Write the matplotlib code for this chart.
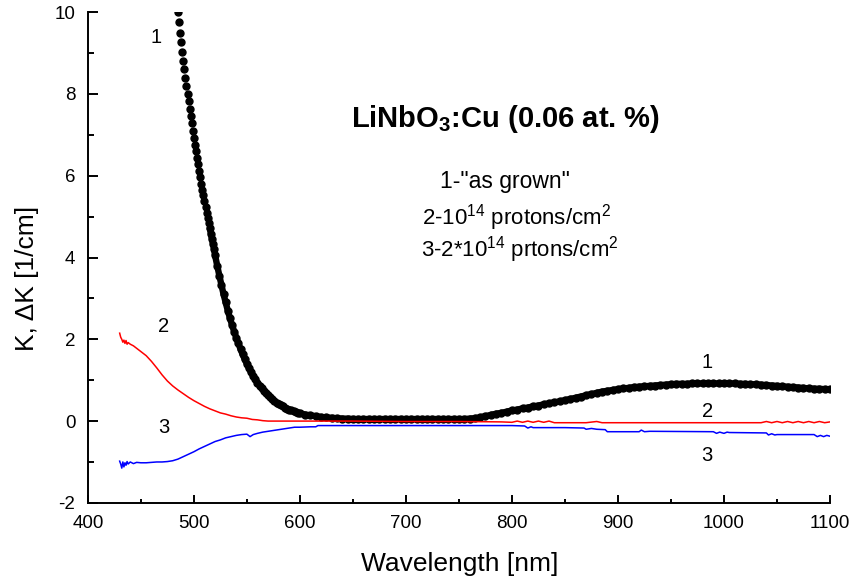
import numpy as np
import matplotlib
matplotlib.use('Agg')
import matplotlib.pyplot as plt
from matplotlib.ticker import MultipleLocator

plt.rcParams['font.family'] = ['Liberation Sans', 'DejaVu Sans']
plt.rcParams['mathtext.fontset'] = 'custom'
plt.rcParams['mathtext.rm'] = 'Liberation Sans'
plt.rcParams['mathtext.it'] = 'Liberation Sans'
plt.rcParams['mathtext.bf'] = 'Liberation Sans:bold'
plt.rcParams['axes.unicode_minus'] = False

# curve 1: "as grown" (black dots)
wl_1 = [485, 486, 487, 488, 489, 490, 491, 492, 493, 494, 495, 496, 497, 498, 499,
        500, 501, 502, 503, 504, 505, 506, 507, 508, 509, 510, 511, 512, 513, 514,
        515, 516, 517, 518, 519, 520,
        522, 524, 526, 528, 530, 532, 534, 536, 538, 540, 542, 544, 546, 548, 550,
        552, 554, 556, 558, 560, 562, 564, 566, 568, 570, 572, 574, 576, 578, 580,
        582, 584, 586, 588, 590, 592, 594, 596, 598, 600,
        605, 610, 615, 620, 625, 630, 635, 640, 645, 650, 655, 660, 665, 670, 675,
        680, 685, 690, 695, 700, 705, 710, 715, 720, 725, 730, 735, 740, 745, 750,
        755, 760, 765, 770, 775, 780, 785, 790, 795, 800, 805, 810, 815, 820, 825,
        830, 835, 840, 845, 850, 855, 860, 865, 870, 875, 880, 885, 890, 895, 900,
        905, 910, 915, 920, 925, 930, 935, 940, 945, 950, 955, 960, 965, 970, 975,
        980, 985, 990, 995, 1000, 1005, 1010, 1015, 1020, 1025, 1030, 1035, 1040,
        1045, 1050, 1055, 1060, 1065, 1070, 1075, 1080, 1085, 1090, 1095, 1100]
k_1 = [10.0, 9.75, 9.5, 9.26, 9.02, 8.8, 8.6, 8.4, 8.2, 8.0, 7.82, 7.64, 7.46, 7.28, 7.1,
       6.93, 6.76, 6.6, 6.44, 6.28, 6.12, 5.96, 5.81, 5.66, 5.52, 5.38, 5.24, 5.1, 4.97, 4.84,
       4.71, 4.58, 4.46, 4.34, 4.22, 4.05,
       3.8, 3.56, 3.33, 3.1, 2.9, 2.7, 2.52, 2.35, 2.19, 2.04, 1.9, 1.76, 1.63, 1.51, 1.4,
       1.29, 1.19, 1.1, 1.02, 0.94, 0.87, 0.8, 0.74, 0.68, 0.63, 0.58, 0.53, 0.49, 0.45, 0.42,
       0.39, 0.36, 0.33, 0.3, 0.28, 0.26, 0.24, 0.22, 0.2, 0.19,
       0.16, 0.14, 0.12, 0.1, 0.09, 0.08, 0.07, 0.06, 0.06, 0.05, 0.05, 0.05, 0.05, 0.05, 0.05,
       0.05, 0.05, 0.05, 0.05, 0.05, 0.05, 0.05, 0.05, 0.05, 0.05, 0.05, 0.05, 0.05, 0.05, 0.05,
       0.05, 0.06, 0.07, 0.09, 0.12, 0.15, 0.18, 0.2, 0.23, 0.26, 0.28, 0.31, 0.33, 0.36, 0.38,
       0.41, 0.43, 0.46, 0.48, 0.51, 0.54, 0.57, 0.6, 0.63, 0.66, 0.69, 0.72, 0.74, 0.76, 0.78,
       0.8, 0.81, 0.83, 0.84, 0.85, 0.86, 0.87, 0.88, 0.89, 0.9, 0.91, 0.91, 0.91, 0.92, 0.92,
       0.92, 0.92, 0.92, 0.92, 0.92, 0.92, 0.92, 0.91, 0.91, 0.9, 0.9, 0.89, 0.88,
       0.87, 0.86, 0.85, 0.84, 0.83, 0.82, 0.81, 0.8, 0.79, 0.79, 0.78, 0.78]

# curve 2: 1e14 protons/cm2 (red)
wl_2 = [430, 431, 432, 433, 434, 435, 436, 437, 438, 440, 443, 446, 450, 455, 460, 465,
        470, 475, 480, 485, 490, 495, 500, 505, 510, 515, 520, 525, 530, 535, 540, 545,
        550, 555, 560, 565, 570, 600, 650, 700, 750, 790, 800, 805, 810, 815, 820, 825,
        830, 835, 840, 850, 870, 880, 885, 895, 900, 950, 1000, 1035, 1040, 1045, 1050,
        1055, 1060, 1065, 1070, 1075, 1080, 1085, 1090, 1095, 1100]
k_2 = [2.15, 2.05, 2.0, 1.93, 1.98, 1.9, 1.97, 1.88, 1.92, 1.88, 1.84, 1.78, 1.70, 1.60, 1.46, 1.30,
       1.13, 0.98, 0.86, 0.76, 0.67, 0.58, 0.50, 0.43, 0.36, 0.30, 0.25, 0.20, 0.17, 0.13, 0.10, 0.08,
       0.07, 0.04, 0.03, 0.01, 0.0, 0.0, 0.0, -0.01, -0.01, -0.02, -0.03, 0.0, -0.03, 0.0, -0.03, 0.0,
       -0.03, 0.0, -0.04, -0.04, -0.04, -0.01, -0.04, -0.04, -0.04, -0.04, -0.04, -0.04, -0.01, -0.04, -0.01,
       -0.04, -0.01, -0.04, -0.01, -0.04, -0.01, -0.04, -0.01, -0.04, -0.02]

# curve 3: 2*1e14 protons/cm2 (blue)
wl_3 = [430, 431, 432, 433, 434, 435, 436, 437, 438, 440, 443, 446, 450, 455, 460, 465,
        470, 475, 480, 485, 490, 495, 500, 505, 510, 515, 520, 525, 530, 535, 540, 545,
        550, 553, 556, 560, 565, 570, 575, 580, 585, 590, 595, 600, 610, 615, 617, 650,
        700, 750, 800, 812, 815, 818, 820, 850, 868, 870, 875, 880, 888, 890, 920, 922,
        925, 930, 990, 993, 996, 1000, 1003, 1005, 1040, 1042, 1045, 1048, 1050, 1085,
        1088, 1091, 1094, 1097, 1100]
k_3 = [-0.98, -1.05, -1.15, -1.0, -1.12, -1.02, -1.08, -0.99, -1.05, -1.0, -1.04, -1.01, -1.02, -1.02, -1.01, -1.0,
       -1.0, -0.99, -0.97, -0.93, -0.87, -0.81, -0.75, -0.68, -0.62, -0.56, -0.50, -0.46, -0.41, -0.38, -0.35, -0.33,
       -0.32, -0.38, -0.33, -0.30, -0.27, -0.25, -0.23, -0.21, -0.19, -0.17, -0.15, -0.15, -0.14, -0.14, -0.11, -0.11,
       -0.11, -0.11, -0.11, -0.12, -0.17, -0.14, -0.16, -0.16, -0.17, -0.2, -0.18, -0.2, -0.21, -0.26, -0.26, -0.22,
       -0.26, -0.25, -0.26, -0.3, -0.27, -0.3, -0.27, -0.28, -0.29, -0.34, -0.31, -0.34, -0.33, -0.33,
       -0.38, -0.35, -0.38, -0.35, -0.37]

# curve number labels: (x, y, text)
curve_labels = [(464, 9.39, '1'), (471, 2.32, '2'), (472, -0.15, '3'),
                (984, 1.44, '1'), (985, 0.24, '2'), (984, -0.83, '3')]

fig = plt.figure(figsize=(8.53, 5.8), dpi=100)
ax = fig.add_axes([0.103, 0.133, 0.870, 0.846])

# dots are separate at the top, merge into a thick band further down
n_sep = wl_1.index(515)
ax.plot(wl_1[n_sep:], k_1[n_sep:], '-', color='black', lw=4.6, solid_capstyle='round')
ax.plot(wl_1, k_1, 'o', color='black', ms=5.0, mec='black')
ax.plot(wl_2, k_2, '-', color='#ff0000', lw=1.1)
ax.plot(wl_3, k_3, '-', color='#0000ff', lw=1.1)

for x, y, s in curve_labels:
    ax.text(x, y, s, fontsize=14.5, ha='center', va='center')

ax.text(794, 7.20, r'LiNbO$_{\mathbf{3}}$:Cu (0.06 at. %)', fontsize=21, fontweight='bold',
        ha='center', va='baseline')
ax.text(793, 5.71, '1-"as grown"', fontsize=16.5, ha='center', va='baseline')
ax.text(804, 4.80, r'2-10$^{14}$ protons/cm$^{2}$', fontsize=16, ha='center', va='baseline')
ax.text(807, 4.02, r'3-2*10$^{14}$ prtons/cm$^{2}$', fontsize=16, ha='center', va='baseline')

ax.set_xlim(400, 1100)
ax.set_ylim(-2, 10)
ax.xaxis.set_major_locator(MultipleLocator(100))
ax.xaxis.set_minor_locator(MultipleLocator(50))
ax.yaxis.set_major_locator(MultipleLocator(2))
ax.yaxis.set_minor_locator(MultipleLocator(1))

for side in ['top', 'right']:
    ax.spines[side].set_visible(False)
for side in ['left', 'bottom']:
    ax.spines[side].set_linewidth(1.4)

ax.tick_params(axis='x', which='major', direction='in', length=6, width=1.4, labelsize=13.5, pad=9)
ax.tick_params(axis='x', which='minor', direction='in', length=3, width=1.4)
ax.tick_params(axis='y', which='major', direction='in', length=7.5, width=1.4, labelsize=13.5, pad=9)
ax.tick_params(axis='y', which='minor', direction='in', length=4.5, width=1.4)

ax.set_xlabel('Wavelength [nm]', fontsize=19)
ax.set_ylabel('K, ΔK [1/cm]', fontsize=19)
ax.xaxis.set_label_coords(0.501, -0.124)
ax.xaxis.label.set_va('center')
ax.yaxis.set_label_coords(-0.082, 0.458)
ax.yaxis.label.set_va('center')

fig.savefig('out.png', dpi=100)
